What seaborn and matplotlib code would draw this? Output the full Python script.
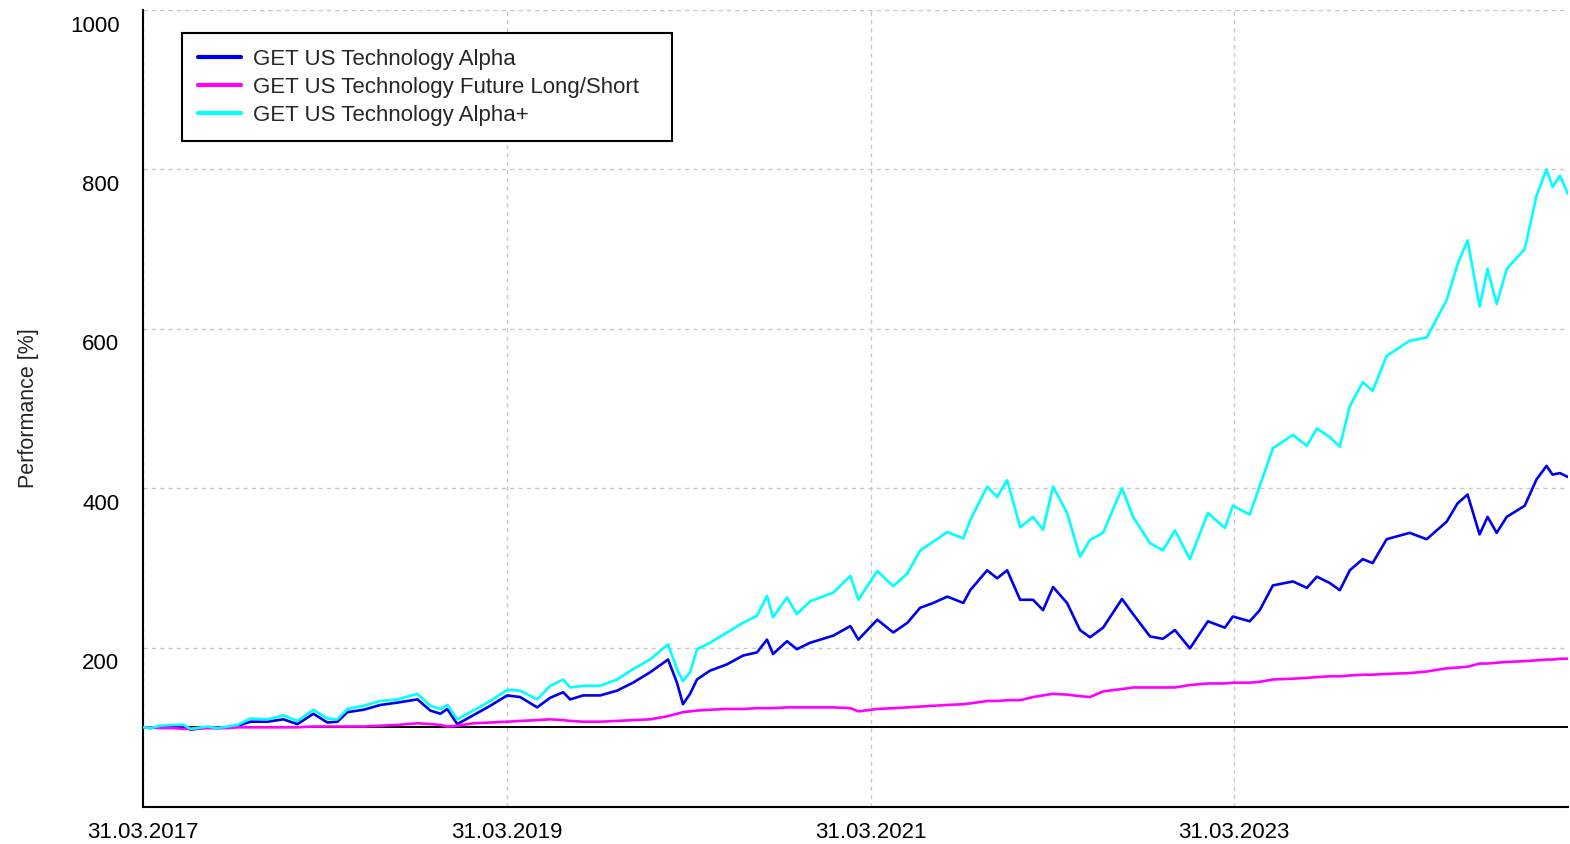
import numpy as np
import pandas as pd
import matplotlib
matplotlib.use("Agg")
import matplotlib.pyplot as plt
import matplotlib.dates as mdates
import matplotlib.transforms as mtransforms
import seaborn as sns

# ── data ─────────────────────────────────────────────────────────────────────
# time axis in decimal years (2017.247 = 31.03.2017), values in %
YEARS = [
    2017.247, 2017.285, 2017.340, 2017.412, 2017.467, 2017.505, 2017.599, 2017.654,
    2017.709, 2017.764, 2017.835, 2017.928, 2018.016, 2018.093, 2018.181, 2018.258,
    2018.313, 2018.368, 2018.456, 2018.549, 2018.643, 2018.753, 2018.824, 2018.879,
    2018.917, 2018.972, 2019.060, 2019.154, 2019.247, 2019.318, 2019.412, 2019.483,
    2019.555, 2019.593, 2019.665, 2019.758, 2019.851, 2019.939, 2020.033, 2020.132,
    2020.181, 2020.214, 2020.253, 2020.291, 2020.362, 2020.456, 2020.544, 2020.621,
    2020.676, 2020.709, 2020.786, 2020.840, 2020.912, 2021.038, 2021.132, 2021.176,
    2021.280, 2021.368, 2021.445, 2021.516, 2021.588, 2021.665, 2021.753, 2021.791,
    2021.884, 2021.939, 2021.994, 2022.066, 2022.137, 2022.192, 2022.247, 2022.324,
    2022.395, 2022.450, 2022.522, 2022.626, 2022.687, 2022.780, 2022.851, 2022.917,
    2023.000, 2023.099, 2023.192, 2023.236, 2023.329, 2023.384, 2023.456, 2023.566,
    2023.643, 2023.698, 2023.769, 2023.824, 2023.879, 2023.950, 2024.005, 2024.082,
    2024.209, 2024.302, 2024.412, 2024.472, 2024.527, 2024.593, 2024.637, 2024.687,
    2024.742, 2024.841, 2024.906, 2024.961, 2024.994, 2025.033, 2025.077,
]
ALPHA = [
    100, 99, 101, 102, 102, 97, 100, 99, 100, 102, 107, 107, 110, 104, 117, 106,
    107, 119, 122, 128, 131, 135, 121, 117, 123, 104, 115, 127, 140, 138, 125, 137,
    144, 135, 140, 140, 146, 156, 169, 185, 156, 129, 142, 160, 171, 179, 190, 194,
    210, 192, 208, 198, 206, 215, 227, 210, 235, 219, 231, 250, 256, 264, 256, 272,
    297, 287, 297, 260, 260, 247, 276, 256, 222, 213, 225, 261, 242, 214, 211, 222,
    199, 233, 225, 239, 233, 247, 278, 283, 275, 289, 281, 272, 297, 311, 306, 336,
    344, 336, 358, 381, 392, 342, 364, 344, 364, 378, 411, 428, 417, 419, 414,
]
FUTURE_LS = [
    100, 100, 99, 99, 98, 98, 99, 99, 99, 100, 100, 100, 100, 100, 101, 101,
    101, 101, 101, 102, 103, 105, 104, 103, 101, 102, 105, 106, 107, 108, 109, 110,
    109, 108, 107, 107, 108, 109, 110, 114, 117, 119, 120, 121, 122, 123, 123, 124,
    124, 124, 125, 125, 125, 125, 124, 120, 123, 124, 125, 126, 127, 128, 129, 130,
    133, 133, 134, 134, 138, 140, 142, 141, 139, 138, 145, 148, 150, 150, 150, 150,
    153, 155, 155, 156, 156, 157, 160, 161, 162, 163, 164, 164, 165, 166, 166, 167,
    168, 170, 174, 175, 176, 180, 180, 181, 182, 183, 184, 185, 185, 186, 186,
]
ALPHA_PLUS = [
    100, 99, 102, 103, 103, 98, 101, 99, 101, 103, 111, 110, 115, 108, 122, 111,
    110, 123, 127, 133, 135, 142, 127, 123, 128, 110, 121, 133, 147, 146, 135, 152,
    160, 150, 152, 152, 160, 173, 185, 204, 173, 158, 169, 198, 206, 219, 231, 240,
    265, 238, 263, 242, 258, 269, 290, 260, 296, 277, 293, 322, 333, 345, 337, 360,
    402, 389, 410, 351, 364, 348, 402, 369, 314, 335, 344, 400, 364, 331, 322, 347,
    311, 369, 350, 378, 367, 403, 450, 467, 453, 475, 464, 452, 503, 533, 522, 566,
    585, 589, 636, 681, 711, 628, 675, 631, 675, 700, 767, 800, 778, 792, 769,
]

SERIES = [
    "GET US Technology Alpha",
    "GET US Technology Future Long/Short",
    "GET US Technology Alpha+",
]
COLORS = ["#0000f0", "#ff00ff", "#00ffff"]
Y_TICKS = [0, 200, 400, 600, 800, 1000]
Y_TICK_LABELS = ["", "200", "400", "600", "800", "1000"]
X_TICKS = ["2017-03-31", "2019-03-31", "2021-03-31", "2023-03-31"]
BASELINE = 100


def to_date(y):
    base = pd.Timestamp(year=int(y), month=1, day=1)
    return base + pd.Timedelta(days=(y - int(y)) * 365.25)


dates = [to_date(y) for y in YEARS]
df = pd.concat([
    pd.DataFrame({"Date": dates, "Performance": vals, "Fund": name})
    for name, vals in zip(SERIES, [ALPHA, FUTURE_LS, ALPHA_PLUS])
])

# ── style ────────────────────────────────────────────────────────────────────
sns.set_style("white")
plt.rcParams["font.family"] = ["Liberation Sans", "DejaVu Sans"]

W, H = 1570, 844
fig = plt.figure(figsize=(W / 100, H / 100), dpi=100, facecolor="white")
ax = fig.add_axes([143 / W, 37 / H, (1568 - 143) / W, (834 - 37) / H])

ax.axhline(BASELINE, color="black", linewidth=1.4, zorder=1)
sns.lineplot(
    data=df, x="Date", y="Performance", hue="Fund",
    hue_order=SERIES, palette=dict(zip(SERIES, COLORS)),
    linewidth=1.9, ax=ax, legend=False, zorder=3,
)

ax.set_ylim(0, 1000)
ax.set_xlim(pd.Timestamp("2017-03-31"), to_date(YEARS[-1]))
ax.set_yticks(Y_TICKS)
ax.set_yticklabels(Y_TICK_LABELS, va="top")
ax.set_xticks([pd.Timestamp(d) for d in X_TICKS])
ax.xaxis.set_major_formatter(mdates.DateFormatter("%d.%m.%Y"))

ax.grid(True, color="#c8c8c8", linestyle=(0, (3, 3)), linewidth=1)
for side in ["top", "right"]:
    ax.spines[side].set_visible(False)
for side in ["left", "bottom"]:
    ax.spines[side].set_color("black")
    ax.spines[side].set_linewidth(1.5)

ax.tick_params(axis="y", length=13, width=1.5, pad=4, labelsize=16, colors="black")
ax.tick_params(axis="x", length=6, width=1.5, pad=5, labelsize=16, colors="black")
offset = mtransforms.ScaledTranslation(0, -4 / 72, fig.dpi_scale_trans)
for lbl in ax.get_yticklabels():
    lbl.set_transform(lbl.get_transform() + offset)

ax.set_xlabel("")
ax.set_ylabel("Performance [%]", fontsize=15.5, labelpad=22)

handles = [plt.Line2D([], [], color=c, linewidth=3) for c in COLORS]
leg = ax.legend(
    handles, SERIES, loc="upper left",
    bbox_to_anchor=((182 - 143) / 1425, (807 - 141) / 797, (672 - 182) / 1425, (141 - 33) / 797),
    mode="expand", borderaxespad=0, fontsize=16, frameon=True, fancybox=False,
    edgecolor="black", framealpha=1, handlelength=1.95, handletextpad=0.55,
    labelspacing=0.32, borderpad=0.7,
)
leg.get_frame().set_linewidth(1.5)

fig.savefig("out.png", dpi=100, facecolor="white")
plt.close(fig)
